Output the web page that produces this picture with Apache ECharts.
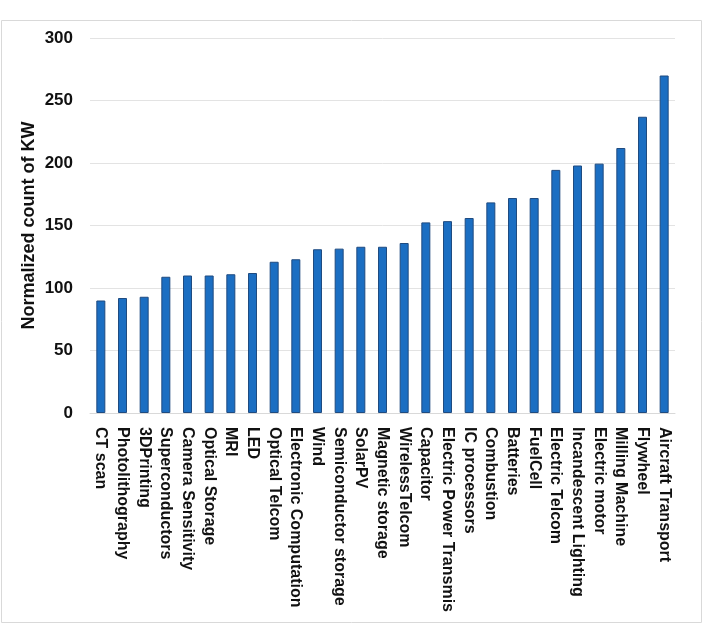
<!DOCTYPE html>
<html lang="en">
<head>
  <meta charset="utf-8">
  <title>Normalized count of KW</title>
  <script type="text/javascript" src="https://fastly.jsdelivr.net/npm/echarts@6/dist/echarts.min.js"></script>
  <style type="text/css">
    * {
      margin: 0;
      padding: 0;
    }
    html, body, #chart {
      width: 100%;
      height: 100%;
      overflow: hidden;
      background: #fff;
    }
  </style>
</head>
<body>
  <div id="chart"></div>
  <script type="text/javascript">
    // categories, sorted by value
    var categories = [
      'CT scan', 'Photolithography', '3DPrinting', 'Superconductors',
      'Camera Sensitivity', 'Optical Storage', 'MRI', 'LED', 'Optical Telcom',
      'Electronic Computation', 'Wind', 'Semiconductor storage', 'SolarPV',
      'Magnetic storage', 'WirelessTelcom', 'Capacitor', 'Electric Power Transmis',
      'IC processors', 'Combustion', 'Batteries', 'FuelCell', 'Electric Telcom',
      'Incandescent Lighting', 'Electric motor', 'Milling Machine', 'Flywheel',
      'Aircraft Transport'
    ];
    var values = [
      90, 92, 93, 109, 110, 110, 111, 112, 121,
      123, 131, 131.5, 133, 133, 136, 152.5, 153.5,
      156, 168.5, 172, 172, 194.5, 198, 199.5, 212, 237, 270
    ];
    var yTicks = { min: 0, max: 300, interval: 50 };

    var chart = echarts.init(document.getElementById('chart'));
    chart.setOption({
      animation: false,
      graphic: [{
        type: 'rect',
        shape: { x: 1.5, y: 20.5, width: 700, height: 602 },
        style: { fill: 'none', stroke: '#d9d9d9', lineWidth: 1 },
        silent: true
      }],
      grid: {
        left: 90,
        right: 30,
        top: 38,
        bottom: 215
      },
      xAxis: {
        type: 'category',
        data: categories,
        axisLine: { lineStyle: { color: '#d9d9d9', width: 1 } },
        axisTick: { show: false },
        axisLabel: {
          interval: 0,
          rotate: -90,
          margin: 14,
          color: '#111',
          fontFamily: 'Liberation Sans, Arial, sans-serif',
          fontWeight: 'bold',
          fontSize: 16
        }
      },
      yAxis: {
        type: 'value',
        min: yTicks.min,
        max: yTicks.max,
        interval: yTicks.interval,
        name: 'Normalized count of KW',
        nameLocation: 'middle',
        nameGap: 52,
        nameMoveOverlap: false,
        nameTextStyle: {
          color: '#111',
          fontFamily: 'Liberation Sans, Arial, sans-serif',
          fontWeight: 'bold',
          fontSize: 18
        },
        axisLine: { show: false },
        axisTick: { show: false },
        splitLine: { lineStyle: { color: '#e3e3e3', width: 1 } },
        axisLabel: {
          margin: 17,
          color: '#111',
          fontFamily: 'Liberation Sans, Arial, sans-serif',
          fontWeight: 'bold',
          fontSize: 17
        }
      },
      series: [{
        type: 'bar',
        data: values,
        barWidth: 9,
        itemStyle: {
          color: '#1b6ec2',
          borderColor: '#1f4b80',
          borderWidth: 1
        }
      }]
    });
  </script>
</body>
</html>
